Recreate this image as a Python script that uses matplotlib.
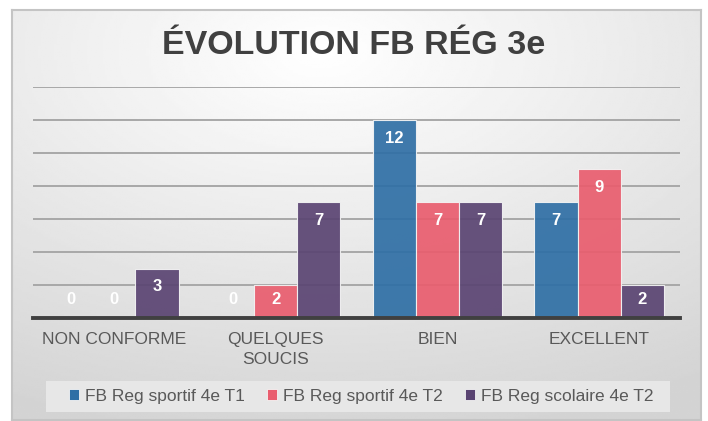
import numpy as np
import matplotlib.pyplot as plt
from matplotlib.patches import Patch, Rectangle

categories = ["NON CONFORME", "QUELQUES\nSOUCIS", "BIEN", "EXCELLENT"]
series_names = ["FB Reg sportif 4e T1", "FB Reg sportif 4e T2", "FB Reg scolaire 4e T2"]
sportif_t1 = [0, 0, 12, 7]
sportif_t2 = [0, 2, 7, 9]
scolaire_t2 = [3, 7, 7, 2]
colors = ["#2f6fa5", "#e95d6e", "#5a4472"]

plt.rcParams['font.family'] = ['Liberation Sans', 'DejaVu Sans']

W, H = 708, 421
fig = plt.figure(figsize=(W / 100, H / 100), dpi=100)

# chart area background (soft radial gradient)
bg = fig.add_axes([12 / W, 1 / H, 689 / W, 410 / H])
yy, xx = np.mgrid[0:1:200j, 0:1:300j]
r = np.sqrt(((xx - 0.45) / 1.0) ** 2 + ((yy - 0.1) / 0.95) ** 2)
shade = 1 - 0.17 * np.clip(r, 0, 1)
bg.imshow(shade, cmap='gray', vmin=0, vmax=1, extent=[0, 1, 1, 0], aspect='auto')
bg.set_xticks([])
bg.set_yticks([])
for s in bg.spines.values():
    s.set_color('#c4c4c4')
    s.set_linewidth(1.5)

ax = fig.add_axes([33 / W, 103 / H, 647 / W, 231 / H])
ax.patch.set_visible(False)

x = np.arange(len(categories))
w = 0.267
for i, (vals, c) in enumerate(zip([sportif_t1, sportif_t2, scolaire_t2], colors)):
    xs = x + (i - 1) * w
    ax.bar(xs, vals, width=w, color=c, alpha=0.92, edgecolor='#f4f4f4', linewidth=0.8, zorder=2)
    for xi, v in zip(xs, vals):
        ax.text(xi, max(v - 1.1, 1.1), str(v), ha='center', va='center', color='white',
                fontsize=12, fontweight='bold', zorder=3)

ax.set_xlim(-0.5, len(categories) - 0.5)
ax.set_ylim(0, 14)
ax.set_yticks(range(0, 15, 2))
ax.yaxis.grid(True, color='#a8a8a8', linewidth=1.4, zorder=1)
ax.set_axisbelow(True)
ax.tick_params(axis='y', length=0, labelleft=False)
ax.set_xticks(x)
ax.set_xticklabels(categories, fontsize=12.5, color='#595959', linespacing=1.45)
ax.tick_params(axis='x', length=0, pad=10)
for s in ['top', 'left', 'right']:
    ax.spines[s].set_visible(False)
ax.spines['bottom'].set_color('#404040')
ax.spines['bottom'].set_linewidth(2.8)
ax.spines['bottom'].set_zorder(4)

fig.text(0.5, (H - 45) / H, "ÉVOLUTION FB RÉG 3e", ha='center', va='center',
         fontsize=24.5, fontweight='bold', color='#404040')

# legend panel
fig.patches.append(Rectangle((46 / W, 9 / H), 624 / W, 31 / H, transform=fig.transFigure,
                             facecolor='#e7e7e7', edgecolor='none', zorder=1))
handles = [Patch(facecolor=c, edgecolor='#f4f4f4', linewidth=0.6) for c in colors]
leg = fig.legend(handles, series_names, loc='center', ncol=3,
                 bbox_to_anchor=(361 / W, 25 / H), frameon=False,
                 handlelength=0.6, handleheight=0.6, handletextpad=0.3, fontsize=12.5,
                 labelcolor='#595959', columnspacing=1.3)

fig.savefig('out.png', dpi=100)
